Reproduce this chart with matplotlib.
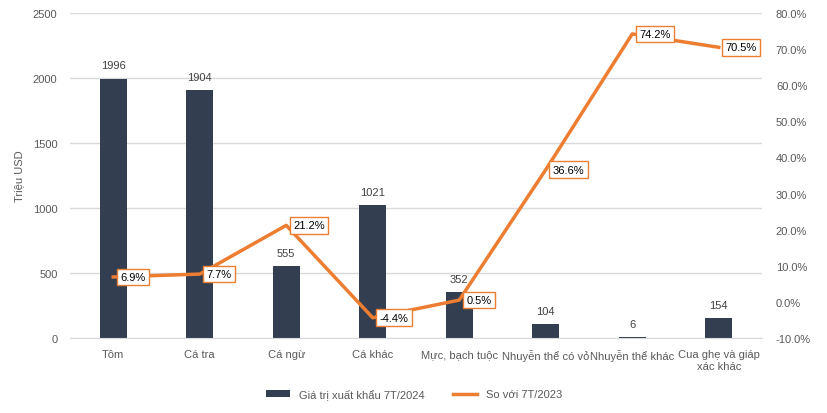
import numpy as np
import matplotlib
matplotlib.use('Agg')
import matplotlib.pyplot as plt

plt.rcParams['font.family'] = ['Liberation Sans', 'DejaVu Sans']

categories = ['Tôm', 'Cá tra', 'Cá ngừ', 'Cá khác', 'Mực, bạch tuộc',
              'Nhuyễn thể có vỏ', 'Nhuyễn thể khác', 'Cua ghẹ và giáp\nxác khác']
export_value = [1996, 1904, 555, 1021, 352, 104, 6, 154]
change_pct = [6.9, 7.7, 21.2, -4.4, 0.5, 36.6, 74.2, 70.5]

bar_color = '#333F50'
line_color = '#ED7D31'
tick_color = '#595959'

fig = plt.figure(figsize=(8.28, 4.14), dpi=100)
ax = fig.add_axes([70 / 828, 1 - 339 / 414, 692 / 828, 325 / 414])
ax2 = ax.twinx()

x = np.arange(len(categories))
ax.bar(x, export_value, width=0.31, color=bar_color, zorder=2,
       label='Giá trị xuất khẩu 7T/2024')
for xi, v in zip(x, export_value):
    ax.annotate(str(v), (xi, v), xytext=(0, 6), textcoords='offset points',
                ha='center', va='bottom', fontsize=8, color='#404040')

ax.set_ylim(0, 2500)
ax.set_yticks(np.arange(0, 2501, 500))
ax.set_xlim(-0.5, len(categories) - 0.5)
ax.set_xticks(x)
ax.set_xticklabels(categories, fontsize=8, color=tick_color)
ax.tick_params(axis='y', labelsize=8, labelcolor=tick_color, length=0, pad=9)
ax.tick_params(axis='x', length=0, pad=8)
ax.grid(axis='y', color='#D9D9D9', linewidth=1, zorder=0)
ax.set_axisbelow(True)
ax.set_ylabel('Triệu USD', fontsize=8, color=tick_color, labelpad=6)
for s in ax.spines.values():
    s.set_visible(False)
ax.spines['bottom'].set_visible(True)
ax.spines['bottom'].set_color('#D9D9D9')

ax2.plot(x, change_pct, color=line_color, linewidth=2.5, zorder=3,
         label='So với 7T/2023')
for xi, v in zip(x, change_pct):
    ax2.annotate(f'{v:.1f}%', (xi, v), xytext=(5, 0), textcoords='offset points',
                 ha='left', va='center', fontsize=8, color='black',
                 bbox=dict(boxstyle='square,pad=0.3', fc='white', ec=line_color, lw=1))
ax2.set_ylim(-10, 80)
ax2.set_yticks(np.arange(-10, 81, 10))
ax2.set_yticklabels([f'{t:.1f}%' for t in np.arange(-10, 81, 10)])
ax2.tick_params(axis='y', labelsize=8, labelcolor=tick_color, length=0, pad=10)
for s in ax2.spines.values():
    s.set_visible(False)

h1, l1 = ax.get_legend_handles_labels()
h2, l2 = ax2.get_legend_handles_labels()
fig.legend(h1 + h2, l1 + l2, loc='center', bbox_to_anchor=(0.5, 1 - 395 / 414),
           ncol=2, frameon=False, fontsize=8, labelcolor=tick_color,
           handlelength=2.2, columnspacing=2.5)

fig.savefig('out.png', dpi=100)
